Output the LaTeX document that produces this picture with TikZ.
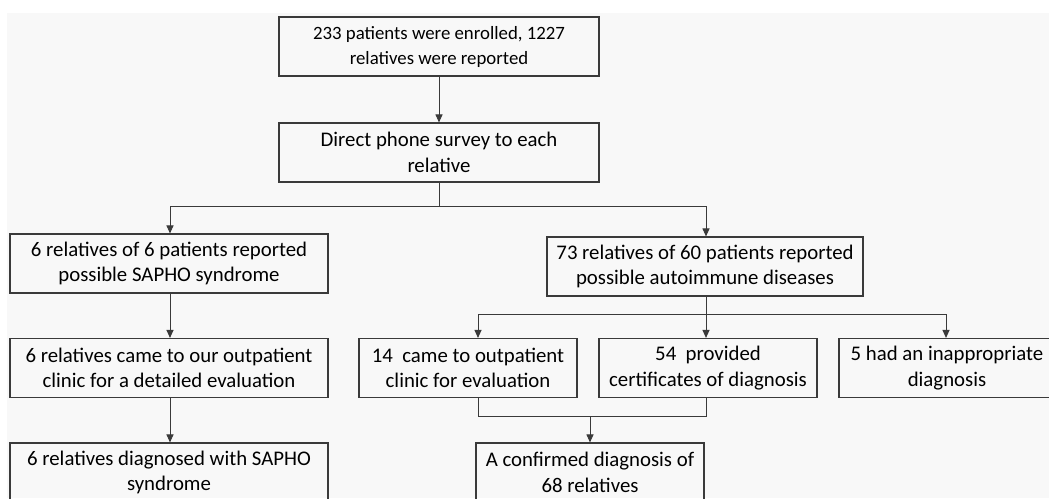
\documentclass[tikz,border=0pt]{standalone}
\usepackage{fontspec}
\setmainfont{Carlito}
\usetikzlibrary{arrows.meta}
\definecolor{bgc}{HTML}{F8F8F8}
\definecolor{linec}{HTML}{3A3A3A}
\begin{document}
\begin{tikzpicture}[x=1pt,y=-1pt,
  box/.style={draw=linec, line width=1.1pt, rectangle, align=center, inner sep=0pt,
    minimum height=59pt, font=\fontsize{20.8}{25.5}\selectfont, text=black},
  smallbox/.style={box, font=\fontsize{18.8}{25}\selectfont},
  conn/.style={draw=linec, line width=1pt},
  arr/.style={conn, -{Triangle[length=8pt,width=7pt]}}]
\useasboundingbox (0,0) rectangle (1049,498);
\clip (0,0) rectangle (1049,498);
\fill[white] (0,0) rectangle (1049,498);
\fill[bgc] (7,13) rectangle (1049,498);

\node[smallbox, minimum width=320pt] (b1) at (439,46.5) {233 patients were enrolled, 1227\\relatives were reported};
\node[box, minimum width=320pt] (b2) at (439,152.5) {Direct phone survey to each\\relative};
\node[box, minimum width=318pt] (b3) at (169,263.5) {6 relatives of 6 patients reported\\possible SAPHO syndrome};
\node[box, minimum width=316pt] (b4) at (705,266.5) {73 relatives of 60 patients reported\\possible autoimmune diseases};
\node[box, minimum width=318pt] (b5) at (169,368) {6 relatives came to our outpatient\\clinic for a detailed evaluation};
\node[box, minimum width=218pt] (b6) at (468,368) {14\ \ came to outpatient\\clinic for evaluation};
\node[box, minimum width=218pt] (b7) at (708,368) {54\ \ provided\\certificates of diagnosis};
\node[box, minimum width=216pt] (b8) at (947,368) {5 had an inappropriate\\diagnosis};
\node[box, minimum width=318pt] (b9) at (169,472.5) {6 relatives diagnosed with SAPHO\\syndrome};
\node[box, minimum width=228pt] (b10) at (590,472.5) {A confirmed diagnosis of\\68 relatives};

% top
\draw[arr] (b1) -- (b2);
% split 1
\coordinate (s1) at (439,206);
\coordinate (s1l) at (170,206);
\coordinate (s1r) at (706,206);
\draw[conn] (b2.south) -- (s1);
\draw[conn] (s1l) -- (s1r);
\draw[arr] (s1l) -- (s1l |- b3.north);
\draw[arr] (s1r) -- (s1r |- b4.north);
% left column
\draw[arr] (b3.south -| s1l) -- (s1l |- b5.north);
\draw[arr] (b5.south -| s1l) -- (s1l |- b9.north);
% split 2
\coordinate (s2) at (706,314);
\coordinate (s2l) at (478,314);
\coordinate (s2r) at (946,314);
\draw[conn] (b4.south -| s2) -- (s2);
\draw[conn] (s2l) -- (s2r);
\draw[arr] (s2l) -- (s2l |- b6.north);
\draw[arr] (s2) -- (s2 |- b7.north);
\draw[arr] (s2r) -- (s2r |- b8.north);
% merge
\coordinate (m1) at (478,416);
\coordinate (m2) at (706,416);
\coordinate (m) at (590,416);
\draw[conn] (b6.south -| m1) -- (m1) -- (m2) -- (b7.south -| m2);
\draw[arr] (m) -- (m |- b10.north);
\end{tikzpicture}
\end{document}
